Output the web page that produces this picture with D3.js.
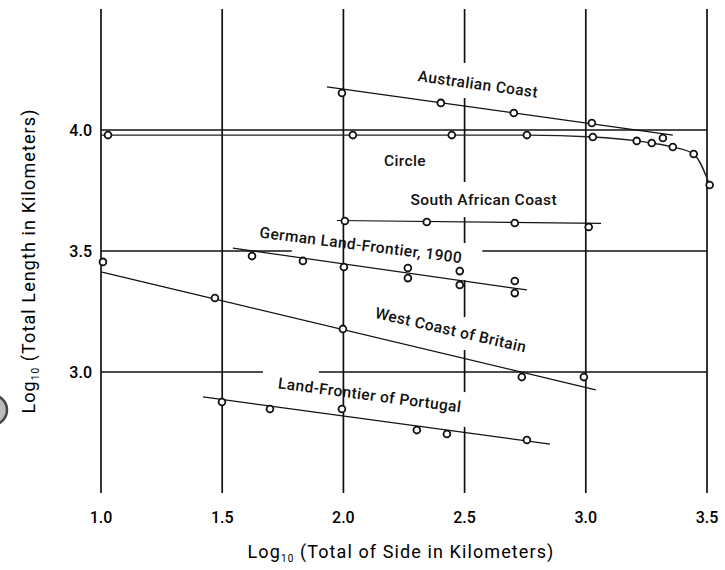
<!DOCTYPE html>
<html>
<head>
<meta charset="utf-8">
<script src="https://cdn.jsdelivr.net/npm/d3@7"></script>
<style>
  body { margin: 0; background: #fff; }
  svg { display: block; }
</style>
</head>
<body>
<svg id="chart" width="725" height="570"></svg>
<script>
// values: [log10 side, log10 total length]
const australianCoast = [[1.994, 4.153], [2.402, 4.112], [2.703, 4.070], [3.025, 4.029], [3.318, 3.967]];
const circlePoints = [[1.029, 3.979], [2.039, 3.979], [2.447, 3.979], [2.757, 3.979], [3.029, 3.971],
  [3.210, 3.955], [3.272, 3.946], [3.359, 3.930], [3.445, 3.901], [3.511, 3.773]];
const southAfricanCoast = [[2.006, 3.624], [2.344, 3.620], [2.707, 3.616], [3.012, 3.599]];
const germanFrontier = [[1.623, 3.479], [1.833, 3.459], [2.002, 3.434], [2.266, 3.430], [2.266, 3.388],
  [2.480, 3.417], [2.480, 3.360], [2.707, 3.376], [2.707, 3.326]];
const westCoastBritain = [[1.008, 3.455], [1.470, 3.306], [1.998, 3.178], [2.736, 2.979], [2.992, 2.979]];
const portugalFrontier = [[1.499, 2.876], [1.697, 2.847], [1.994, 2.847], [2.303, 2.760], [2.427, 2.744], [2.757, 2.719]];

// fitted straight lines: [x0, y0, x1, y1]
const australianFit = [1.932, 4.178, 3.359, 3.979];
const southAfricanFit = [1.973, 3.626, 3.063, 3.614];
const germanFit = [1.544, 3.512, 2.757, 3.339];
const westCoastFit = [1.004, 3.413, 3.041, 2.926];
const portugalFit = [1.421, 2.897, 2.852, 2.702];

const xTicks = [1.0, 1.5, 2.0, 2.5, 3.0, 3.5];
const yTicks = [3.0, 3.5, 4.0];

// where the printed grid is broken around the labels
const vGridGaps = { 2.5: [[2.773, 2.917], [3.091, 3.227], [3.380, 3.533], [3.640, 3.785], [4.132, 4.277]] };
const hGridGaps = { 3.5: [[1.787, 2.573]], 3.0: [[1.668, 1.899]] };

const svg = d3.select("#chart");
const font = "Roboto, 'DejaVu Sans', sans-serif";

const x = d3.scaleLinear().domain([1.0, 3.5]).range([101, 707]);
const y = d3.scaleLinear().domain([2.5, 4.5]).range([493, 9]);

function pieces(lo, hi, gaps) {
  const out = [];
  let s = lo;
  (gaps || []).slice().sort((a, b) => a[0] - b[0]).forEach(g => { out.push([s, g[0]]); s = g[1]; });
  out.push([s, hi]);
  return out;
}

// Grid
const grid = svg.append("g").attr("stroke", "#111").attr("stroke-width", 1.7);
xTicks.forEach(t => {
  pieces(y.domain()[0], y.domain()[1], vGridGaps[t]).forEach(p => {
    grid.append("line")
      .attr("x1", x(t)).attr("x2", x(t))
      .attr("y1", y(p[0])).attr("y2", y(p[1]));
  });
});
yTicks.forEach(t => {
  pieces(x.domain()[0], x.domain()[1], hGridGaps[t]).forEach(p => {
    grid.append("line")
      .attr("y1", y(t)).attr("y2", y(t))
      .attr("x1", x(p[0])).attr("x2", x(p[1]));
  });
});

// Fit lines
const fits = [australianFit, southAfricanFit, germanFit, westCoastFit, portugalFit];
svg.append("g")
  .selectAll("line")
  .data(fits)
  .join("line")
    .attr("x1", d => x(d[0])).attr("y1", d => y(d[1]))
    .attr("x2", d => x(d[2])).attr("y2", d => y(d[3]))
    .attr("stroke", "#111")
    .attr("stroke-width", 1.2);

// Circle curve, starting at the left edge of the grid
const circleCurve = [[x.domain()[0], circlePoints[0][1]]].concat(circlePoints);
svg.append("path")
  .datum(circleCurve)
  .attr("fill", "none")
  .attr("stroke", "#222")
  .attr("stroke-width", 1.4)
  .attr("d", d3.line().x(d => x(d[0])).y(d => y(d[1])).curve(d3.curveMonotoneX));

// Markers
const allPoints = [].concat(australianCoast, circlePoints, southAfricanCoast,
  germanFrontier, westCoastBritain, portugalFrontier);
svg.append("g")
  .selectAll("circle")
  .data(allPoints)
  .join("circle")
    .attr("cx", d => x(d[0]))
    .attr("cy", d => y(d[1]))
    .attr("r", 3.4)
    .attr("fill", "#fff")
    .attr("stroke", "#111")
    .attr("stroke-width", 1.8);

// Series labels: [text, x, y, angle]
const seriesLabels = [
  ["Australian Coast", 2.555, 4.190, 7.9],
  ["Circle", 2.254, 3.872, 0],
  ["South African Coast", 2.579, 3.711, 0],
  ["German Land-Frontier, 1900", 2.072, 3.525, 7.2],
  ["West Coast of Britain", 2.443, 3.174, 13],
  ["Land-Frontier of Portugal", 2.109, 2.905, 7.5]
];
svg.append("g")
  .selectAll("text")
  .data(seriesLabels)
  .join("text")
    .attr("transform", d => `translate(${x(d[1])},${y(d[2])}) rotate(${d[3]})`)
    .attr("text-anchor", "middle")
    .attr("dy", "0.35em")
    .style("font-family", font)
    .style("font-size", "15.5px")
    .style("font-weight", 500)
    .style("letter-spacing", "0.4px")
    .attr("fill", "#111")
    .text(d => d[0]);

// Tick labels
svg.append("g")
  .selectAll("text")
  .data(xTicks)
  .join("text")
    .attr("x", d => x(d))
    .attr("y", 523)
    .attr("text-anchor", "middle")
    .style("font-family", font)
    .style("font-size", "16px")
    .style("font-weight", 500)
    .text(d => d3.format(".1f")(d));

svg.append("g")
  .selectAll("text")
  .data(yTicks)
  .join("text")
    .attr("x", 92)
    .attr("y", d => y(d))
    .attr("dy", "0.35em")
    .attr("text-anchor", "end")
    .style("font-family", font)
    .style("font-size", "16px")
    .style("font-weight", 500)
    .text(d => d3.format(".1f")(d));

// Axis titles
function title(sel, rest) {
  sel.append("tspan").text("Log");
  sel.append("tspan").attr("font-size", "10px").attr("dy", 4).text("10");
  sel.append("tspan").attr("dy", -4).text(rest);
}
svg.append("text")
  .attr("x", 401)
  .attr("y", 558)
  .attr("text-anchor", "middle")
  .style("font-family", font)
  .style("font-size", "18px")
  .style("letter-spacing", "1.1px")
  .call(title, " (Total of Side in Kilometers)");

svg.append("text")
  .attr("transform", "translate(35,261) rotate(-90)")
  .attr("text-anchor", "middle")
  .style("font-family", font)
  .style("font-size", "18px")
  .style("letter-spacing", "1.1px")
  .call(title, " (Total Length in Kilometers)");

// scan artefact at the left edge
svg.append("circle")
  .attr("cx", -8).attr("cy", 410).attr("r", 15)
  .attr("fill", "#bbb")
  .attr("stroke", "#444")
  .attr("stroke-width", 2.5);
</script>
</body>
</html>
